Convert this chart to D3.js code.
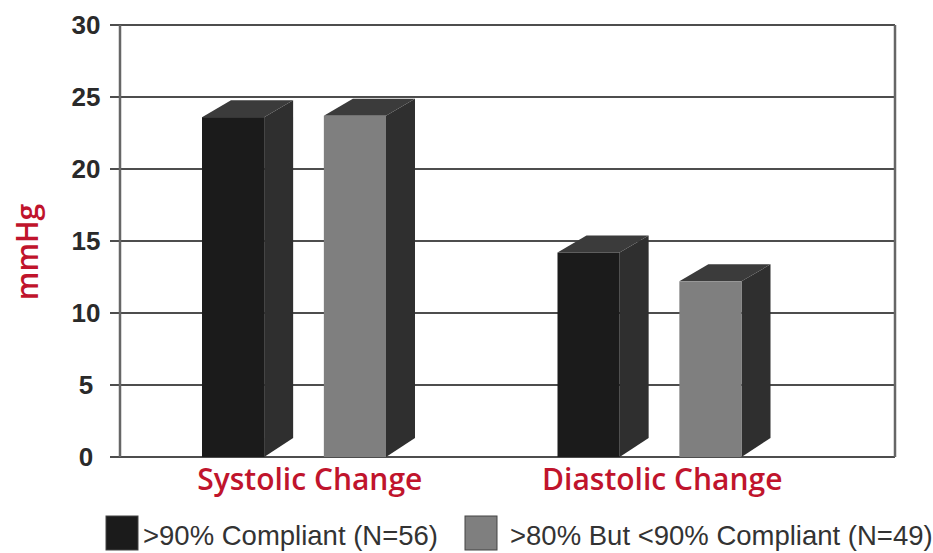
<!DOCTYPE html>
<html><head><meta charset="utf-8">
<script src="https://cdn.jsdelivr.net/npm/d3@7"></script>
<style>html,body{margin:0;padding:0;background:#fff;}svg{display:block;}</style>
</head><body>
<svg id="chart" width="933" height="553"></svg>
<script>
const categories = ["Systolic Change", "Diastolic Change"];
const seriesNames = [">90% Compliant (N=56)", ">80% But <90% Compliant (N=49)"];
const compliant90 = [23.6, 14.2];
const compliant80to90 = [23.7, 12.2];
const yTicks = [0, 5, 10, 15, 20, 25, 30];

const svg = d3.select("#chart");
const plot = {left: 120, right: 895, top: 25, bottom: 457};
const y = d3.scaleLinear().domain([0, 30]).range([plot.bottom, plot.top]);
const x0 = d3.scaleBand().domain(categories).range([117, 828]).padding(0);
const x1 = d3.scaleBand().domain(seriesNames).range([85, 269]).paddingInner(0.49).paddingOuter(0);

const fronts = ["#1b1b1b", "#7f7f7f"];
const sideColor = "#2f2f2f";
const topColor = "#3b3b3b";
const dx = 29, dyTop = 17, dyBot = 19;

// gridlines
svg.append("g").selectAll("line").data(yTicks).join("line")
  .attr("x1", 110).attr("x2", plot.right)
  .attr("y1", d => y(d)).attr("y2", d => y(d))
  .attr("stroke", "#4d4d4d").attr("stroke-width", 2.2);
// axis lines
svg.append("line").attr("x1", plot.left).attr("x2", plot.left).attr("y1", plot.top).attr("y2", plot.bottom)
  .attr("stroke", "#666").attr("stroke-width", 2.5);
svg.append("line").attr("x1", plot.right).attr("x2", plot.right).attr("y1", plot.top).attr("y2", plot.bottom)
  .attr("stroke", "#666").attr("stroke-width", 2.5);

// tick labels
svg.append("g").selectAll("text").data(yTicks).join("text")
  .attr("x", 86).attr("y", d => y(d)).attr("dy", "0.36em")
  .attr("text-anchor", "middle")
  .attr("font-family", "Liberation Sans, Arial, sans-serif").attr("font-weight", "bold")
  .attr("font-size", 26).attr("fill", "#2a2a2a")
  .text(d => d);

// bars
const data = [];
categories.forEach((c, i) => {
  data.push({cat: c, s: seriesNames[0], v: compliant90[i], k: 0});
  data.push({cat: c, s: seriesNames[1], v: compliant80to90[i], k: 1});
});
const bars = svg.append("g").selectAll("g").data(data).join("g");
bars.each(function(d) {
  const g = d3.select(this);
  const xl = x0(d.cat) + x1(d.s);
  const xr = xl + x1.bandwidth();
  const yt = y(d.v), yb = y(0);
  g.append("path")
    .attr("d", `M${xr},${yt} L${xr + dx},${yt - dyTop} L${xr + dx},${yb - dyBot} L${xr},${yb} Z`)
    .attr("fill", sideColor);
  g.append("path")
    .attr("d", `M${xl},${yt} L${xl + dx},${yt - dyTop} L${xr + dx},${yt - dyTop} L${xr},${yt} Z`)
    .attr("fill", topColor);
  g.append("rect").attr("x", xl).attr("y", yt).attr("width", x1.bandwidth()).attr("height", yb - yt)
    .attr("fill", fronts[d.k]);
});

// category labels
svg.append("g").selectAll("text").data(categories).join("text")
  .attr("x", (d, i) => x0(d) + x0.bandwidth() / 2 + (i === 0 ? 15 : 12))
  .attr("y", 490)
  .attr("text-anchor", "middle")
  .attr("font-family", "Open Sans, sans-serif").attr("font-weight", "600")
  .attr("font-size", 30).attr("fill", "#c0142c")
  .text(d => d);

// y title
svg.append("text")
  .attr("transform", "translate(38,252) rotate(-90)")
  .attr("text-anchor", "middle")
  .attr("font-family", "Open Sans, sans-serif").attr("font-weight", "600")
  .attr("font-size", 30).attr("fill", "#c0142c")
  .text("mmHg");

// legend
const legendBoxX = [106, 465];
const legendTextX = [143, 510];
const leg = svg.append("g").selectAll("g").data(seriesNames).join("g");
leg.append("rect").attr("x", (d, i) => legendBoxX[i]).attr("y", 516).attr("width", 32).attr("height", 34)
  .attr("fill", (d, i) => fronts[i]).attr("stroke", "#444").attr("stroke-width", 1);
leg.append("text").attr("x", (d, i) => legendTextX[i]).attr("y", 545)
  .attr("font-family", "Liberation Sans, Arial, sans-serif")
  .attr("font-size", 27.5).attr("fill", "#333")
  .text(d => d);
</script>
</body></html>
